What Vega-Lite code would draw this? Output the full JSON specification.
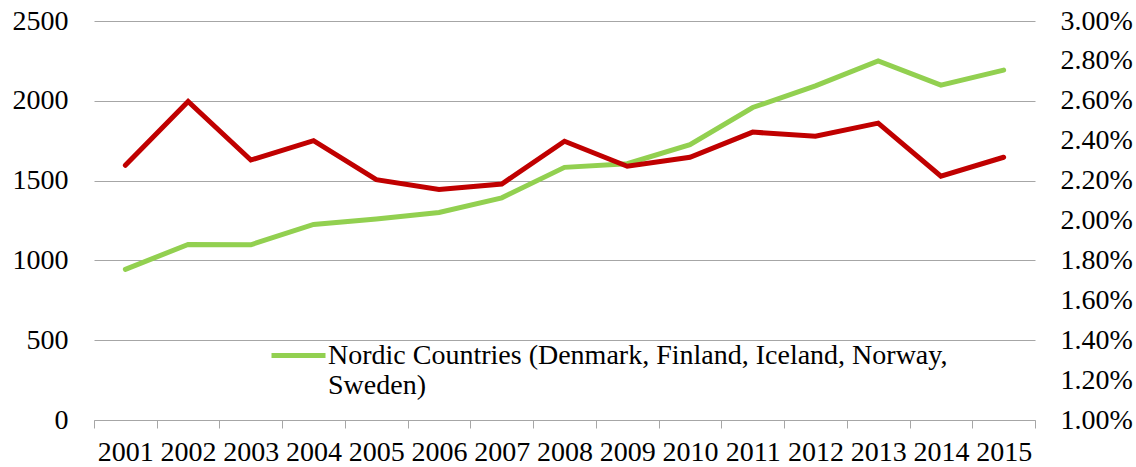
{
  "$schema": "https://vega.github.io/schema/vega-lite/v6.json",
  "width": 941,
  "height": 399,
  "autosize": {"type": "none"},
  "padding": {"left": 94, "top": 21, "right": 101, "bottom": 47},
  "background": "white",
  "config": {
    "view": {"stroke": null},
    "font": "Liberation Serif",
    "axis": {"labelFont": "Liberation Serif", "labelFontSize": 28, "labelColor": "#000000", "labelFontWeight": "normal"},
    "legend": {"labelFont": "Liberation Serif", "labelFontSize": 28, "labelColor": "#000000"}
  },
  "data": {
    "values": [
      {"year": "2001", "nordic": 944, "share": 0.02277},
      {"year": "2002", "nordic": 1100, "share": 0.02597},
      {"year": "2003", "nordic": 1098, "share": 0.02303},
      {"year": "2004", "nordic": 1225, "share": 0.02400},
      {"year": "2005", "nordic": 1259, "share": 0.02205},
      {"year": "2006", "nordic": 1300, "share": 0.02155},
      {"year": "2007", "nordic": 1392, "share": 0.02183},
      {"year": "2008", "nordic": 1583, "share": 0.02397},
      {"year": "2009", "nordic": 1606, "share": 0.02272},
      {"year": "2010", "nordic": 1725, "share": 0.02317},
      {"year": "2011", "nordic": 1958, "share": 0.02443},
      {"year": "2012", "nordic": 2094, "share": 0.02422},
      {"year": "2013", "nordic": 2250, "share": 0.02488},
      {"year": "2014", "nordic": 2098, "share": 0.02222},
      {"year": "2015", "nordic": 2192, "share": 0.02317}
    ]
  },
  "encoding": {
    "x": {
      "field": "year",
      "type": "ordinal",
      "scale": {"paddingInner": 0, "paddingOuter": 0},
      "axis": {
        "title": null,
        "labelAngle": 0,
        "domainColor": "#a6a6a6",
        "tickColor": "#a6a6a6",
        "tickBand": "extent",
        "tickSize": 8,
        "labelPadding": 10,
        "labelBaseline": "top"
      }
    }
  },
  "layer": [
    {
      "mark": {"type": "line", "strokeWidth": 5, "strokeCap": "round", "strokeJoin": "miter"},
      "encoding": {
        "y": {
          "field": "nordic",
          "type": "quantitative",
          "scale": {"domain": [0, 2500], "nice": false},
          "axis": {
            "title": null,
            "orient": "left",
            "format": "d",
            "values": [0, 500, 1000, 1500, 2000, 2500],
            "grid": true,
            "gridColor": "#a6a6a6",
            "gridWidth": 1,
            "domain": false,
            "ticks": false,
            "tickSize": 0,
            "labelPadding": 26
          }
        },
        "color": {
          "datum": "Nordic Countries (Denmark, Finland, Iceland, Norway, Sweden)",
          "scale": {"range": ["#92d050"]},
          "legend": {
            "title": null,
            "orient": "none",
            "legendX": 175,
            "legendY": 305,
            "symbolType": "stroke",
            "symbolSize": 2916,
            "symbolStrokeWidth": 5,
            "labelOffset": 0,
            "labelLimit": 800,
            "labelBaseline": "middle",
            "labelExpr": "['Nordic Countries (Denmark, Finland, Iceland, Norway,', 'Sweden)']"
          }
        }
      }
    },
    {
      "mark": {"type": "line", "strokeWidth": 5, "strokeCap": "round", "color": "#c00000"},
      "encoding": {
        "y": {
          "field": "share",
          "type": "quantitative",
          "scale": {"domain": [0.01, 0.03], "nice": false},
          "axis": {
            "title": null,
            "orient": "right",
            "values": [0.01, 0.012, 0.014, 0.016, 0.018, 0.02, 0.022, 0.024, 0.026, 0.028, 0.03],
            "format": ".2%",
            "grid": false,
            "domain": false,
            "ticks": false,
            "tickSize": 0,
            "labelPadding": 25
          }
        }
      }
    }
  ],
  "resolve": {"scale": {"y": "independent", "color": "independent"}}
}
